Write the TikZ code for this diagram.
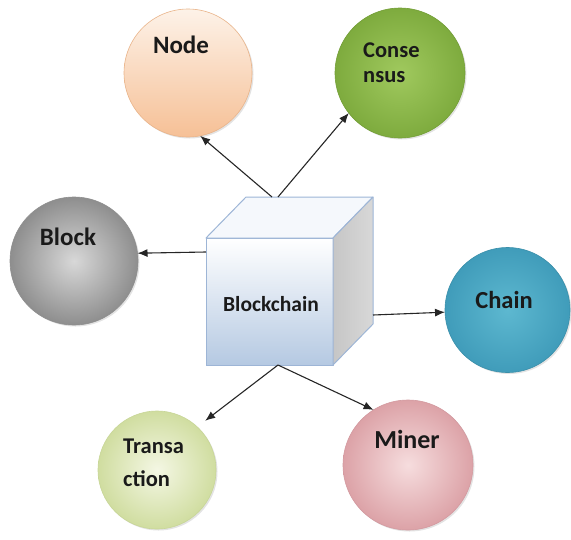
\documentclass[tikz,border=0pt]{standalone}
\usepackage{fontspec}
\setmainfont{Carlito}
\usetikzlibrary{shadows,arrows.meta,calc}
\definecolor{txt}{HTML}{1A1A1A}
\definecolor{arr}{HTML}{262626}
\definecolor{peachT}{HTML}{FDF2E8}
\definecolor{peachB}{HTML}{F6C096}
\definecolor{peachD}{HTML}{E9B48A}
\definecolor{greenI}{HTML}{A0C95E}
\definecolor{greenO}{HTML}{7EAB3E}
\definecolor{greenD}{HTML}{739E36}
\definecolor{greyI}{HTML}{D8D8D8}
\definecolor{greyO}{HTML}{8E8E8E}
\definecolor{greyD}{HTML}{8E8E8E}
\definecolor{tealI}{HTML}{5DB8D0}
\definecolor{tealO}{HTML}{409CBA}
\definecolor{tealD}{HTML}{3A8FAA}
\definecolor{limeI}{HTML}{F4F7E4}
\definecolor{limeO}{HTML}{D0DDA0}
\definecolor{limeD}{HTML}{C8D698}
\definecolor{pinkI}{HTML}{F6DDDE}
\definecolor{pinkO}{HTML}{DCA2A7}
\definecolor{pinkD}{HTML}{D39AA0}
\definecolor{cubeB}{HTML}{9DB5D6}
\definecolor{cubeBot}{HTML}{B5C9E2}
\definecolor{cubeTop}{HTML}{F5F8FC}
\definecolor{cubeSideL}{HTML}{C6C6C6}
\definecolor{cubeSideR}{HTML}{D8D8D8}
\begin{document}
\begin{tikzpicture}[x=1pt,y=-1pt,
  bubble/.style={circle, inner sep=0pt, outer sep=0pt, draw=#1, line width=0.6pt,
    drop shadow={shadow xshift=1.5pt, shadow yshift=-1.5pt, opacity=0.22}},
  lbl/.style={font=\bfseries\fontsize{#1}{#1}\selectfont, text=txt, inner sep=0pt, anchor=base},
  link/.style={draw=arr, line width=1.1pt, -{Latex[length=10pt,width=8pt]}},
  face/.style={draw=cubeB, line width=1pt, line join=round}
]
\useasboundingbox (0,0) rectangle (571,539);

% circles
\node[bubble=peachD, minimum size=128pt, top color=peachT, bottom color=peachB] (nNode) at (188,73) {};
\node[bubble=greenD, minimum size=130pt, inner color=greenI, outer color=greenO] (nCons) at (400,73) {};
\node[bubble=greyD, minimum size=128pt, inner color=greyI, outer color=greyO] (nBlock) at (74,261) {};
\node[bubble=tealD, minimum size=125pt, inner color=tealI, outer color=tealO] (nChain) at (507.5,310) {};
\node[bubble=limeD, minimum size=118pt, inner color=limeI, outer color=limeO] (nTrans) at (157,470) {};
\node[bubble=pinkD, minimum size=130pt, inner color=pinkI, outer color=pinkO] (nMiner) at (408,465) {};

% cube
\node[face, top color=white, bottom color=cubeBot, minimum width=127pt, minimum height=127pt, inner sep=0pt, outer sep=0pt] (front) at (269.5,301.5) {};
\filldraw[face, fill=cubeTop] (front.north west) -- ++(40,-41) -- ++(127,0) -- (front.north east) -- cycle;
\path[face, left color=cubeSideL, right color=cubeSideR] (front.north east) -- ++(40,-41) -- ++(0,127) -- (front.south east) -- cycle;

% labels
\node[lbl=25] (tNode) at (181,53) {Node};
\node[font=\bfseries\fontsize{22.5}{25}\selectfont, text=txt, inner sep=0pt, anchor=base west, align=left] (tCons) at (363,82) {Conse\\nsus};
\node[lbl=25] (tBlock) at (68,245) {Block};
\node[lbl=24.5] (tChain) at (504,308) {Chain};
\node[font=\bfseries\fontsize{22.5}{33}\selectfont, text=txt, inner sep=0pt, anchor=base west, align=left] (tTrans) at (123,486) {Transa\\ction};
\node[lbl=26] (tMiner) at (407,448) {Miner};
\node[lbl=21.5] (tBC) at (271,311) {Blockchain};

% connectors
\coordinate (sN) at (272,197);
\coordinate (sC) at (278,197);
\coordinate (sB) at (206,252);
\coordinate (sR) at (373,315);
\coordinate (sD) at (278,365);
\draw[link] (sN) -- (nNode.-79);
\draw[link] (sC) -- (nCons.218);
\draw[link] (sB) -- (nBlock.7);
\draw[link] (sR) -- (nChain.182);
\draw[link, shorten >=10pt] (sD) -- (nTrans.47);
\draw[link] (sD) -- (nMiner.122);
\end{tikzpicture}
\end{document}
